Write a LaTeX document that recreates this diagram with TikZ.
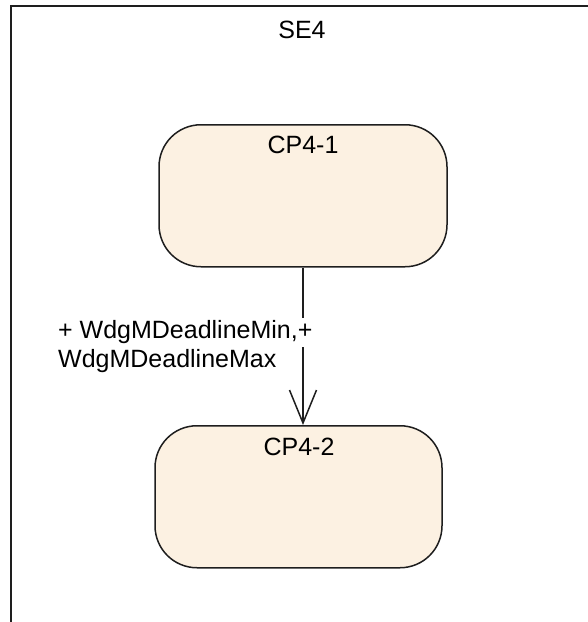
\documentclass[tikz,border=0pt]{standalone}
\usepackage{fontspec}
\setmainfont{Liberation Sans}
\usetikzlibrary{arrows.meta}
\definecolor{stfill}{RGB}{252,241,226}
\definecolor{stdraw}{RGB}{30,30,30}
\tikzset{
  statebox/.style={draw=stdraw, line width=1.5pt, fill=stfill, rounded corners=42pt,
    inner sep=0pt, anchor=north},
  txt/.style={font=\fontsize{25}{29}\selectfont, inner sep=0pt, text=black},
  conn/.style={draw=stdraw, line width=1.5pt, -{Straight Barb[length=33pt,width=27pt,line width=1.5pt]}},
  frameline/.style={draw=stdraw, line width=2pt}
}
\begin{document}
\begin{tikzpicture}[x=1pt,y=-1pt]
\useasboundingbox (0,0) rectangle (588,622);
% container frame
\coordinate (fbl) at (10.5,630);
\coordinate (ftl) at (10.5,6);
\coordinate (ftr) at (595,6);
\draw[frameline] (fbl) -- (ftl) -- (ftr);
\node[txt, anchor=base] (se4) at (302,38) {SE4};
% states
\node[statebox, minimum width=288pt, minimum height=142pt] (cp1) at (303,124) {};
\node[txt, anchor=base] (cp1t) at (303,153) {CP4-1};
\node[statebox, minimum width=287pt, minimum height=142pt] (cp2) at (298.5,425) {};
\node[txt, anchor=base] (cp2t) at (299,455) {CP4-2};
% transition
\draw[conn] (cp1.south) -- (cp1.south |- cp2.north);
\node[txt, align=left, anchor=north west] (lbl) at (58,317.7)
  {\setlength{\fboxsep}{0pt}\colorbox{white}{\strut + WdgMDeadlineMin,+}\\WdgMDeadlineMax};
\end{tikzpicture}
\end{document}
